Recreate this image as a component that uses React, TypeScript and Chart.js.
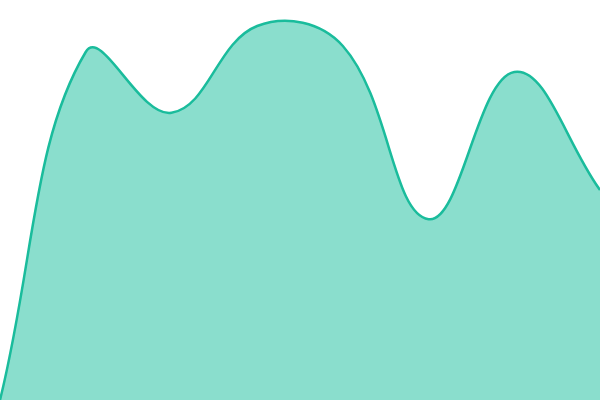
import { useEffect, useRef } from "react"
import { Chart, registerables } from "chart.js"

Chart.register(...registerables)

const labels = ["A", "B", "C", "D", "E", "F", "G", "H"]
const values = [0, 87, 71.8, 93.5, 88.5, 45.2, 82, 52.5]

export default function App() {
  const chartRef = useRef<HTMLCanvasElement>(null)
  const chartInstance = useRef<Chart | null>(null)

  useEffect(() => {
    document.body.style.margin = "0"
    if (!chartRef.current) return
    if (chartInstance.current) chartInstance.current.destroy()

    chartInstance.current = new Chart(chartRef.current, {
      type: "line",
      data: {
        labels,
        datasets: [
          {
            data: values,
            fill: true,
            backgroundColor: "rgba(22, 190, 156, 0.5)",
            borderColor: "#1abc9c",
            borderWidth: 2.5,
            tension: 0.4,
            pointRadius: 0,
          },
        ],
      },
      options: {
        responsive: true,
        maintainAspectRatio: false,
        animation: false,
        layout: { padding: 0 },
        scales: {
          x: { display: false },
          y: { display: false, min: 0, max: 100 },
        },
        plugins: {
          legend: { display: false },
          tooltip: { enabled: false },
        },
      },
    })

    return () => {
      if (chartInstance.current) chartInstance.current.destroy()
    }
  }, [])

  return (
    <div style={{ width: 600, height: 400, position: "relative" }}>
      <canvas ref={chartRef} />
    </div>
  )
}
